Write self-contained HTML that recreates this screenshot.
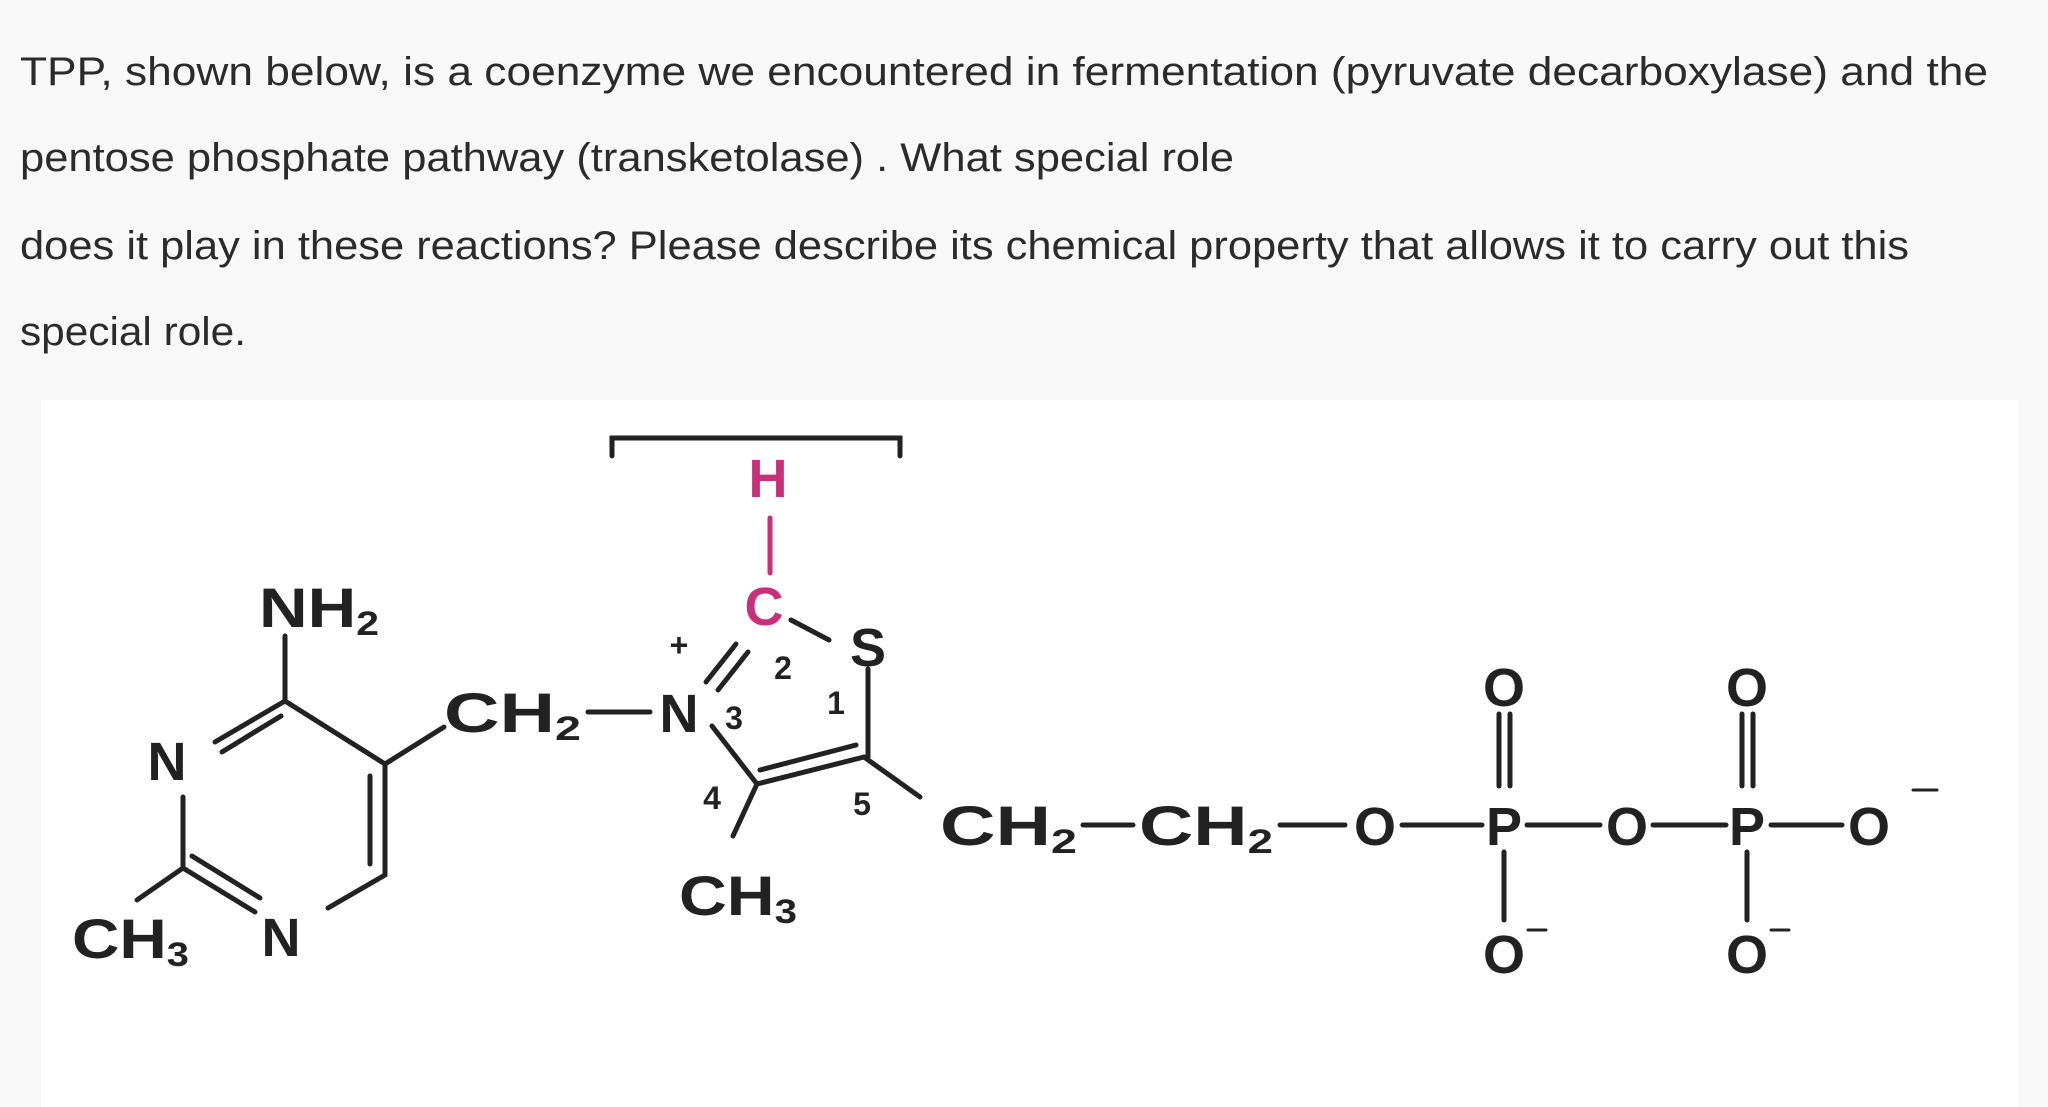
<!DOCTYPE html>
<html><head><meta charset="utf-8"><style>
html,body{margin:0;padding:0;background:#f8f8f8;}
svg{display:block;}
.h{font-family:"Liberation Sans",sans-serif;font-size:40px;fill:#2b2b2b;}
.a{font-family:"Liberation Sans Narrow","Liberation Sans",sans-serif;font-weight:bold;font-size:54px;fill:#222;text-anchor:middle;}
.b{font-family:"Liberation Sans Narrow","Liberation Sans",sans-serif;font-weight:bold;font-size:56px;fill:#222;}
.s{font-family:"Liberation Sans Narrow","Liberation Sans",sans-serif;font-weight:bold;font-size:34px;fill:#222;}
.n{font-family:"Liberation Sans Narrow","Liberation Sans",sans-serif;font-weight:bold;font-size:32px;fill:#222;text-anchor:middle;}
</style></head><body>
<svg width="2048" height="1107" viewBox="0 0 2048 1107" xmlns="http://www.w3.org/2000/svg">
<rect x="0" y="0" width="2048" height="1107" fill="#f8f8f8"/>
<text class="h" x="20" y="85" textLength="1968" lengthAdjust="spacingAndGlyphs">TPP, shown below, is a coenzyme we encountered in fermentation (pyruvate decarboxylase) and the</text>
<text class="h" x="20" y="171" textLength="1214" lengthAdjust="spacingAndGlyphs">pentose phosphate pathway (transketolase) . What special role</text>
<text class="h" x="20" y="259" textLength="1889" lengthAdjust="spacingAndGlyphs">does it play in these reactions? Please describe its chemical property that allows it to carry out this</text>
<text class="h" x="20" y="345" textLength="226" lengthAdjust="spacingAndGlyphs">special role.</text>
<rect x="41" y="400" width="1977" height="707" fill="#ffffff"/>

<g stroke="#222" stroke-width="5" fill="none" stroke-linecap="round">
<polyline points="612,456 612,438 900,438 900,456"/>
<line x1="285" y1="636" x2="285" y2="701"/>
<line x1="285" y1="701" x2="385" y2="764"/>
<line x1="385" y1="764" x2="444" y2="727"/>
<line x1="385" y1="764" x2="385" y2="875"/>
<line x1="370" y1="776" x2="370" y2="864"/>
<line x1="385" y1="875" x2="328" y2="908"/>
<line x1="183" y1="868" x2="255" y2="912"/>
<line x1="192" y1="856" x2="260" y2="898"/>
<line x1="183" y1="797" x2="183" y2="868"/>
<line x1="183" y1="868" x2="137" y2="900"/>
<line x1="285" y1="701" x2="215" y2="742"/>
<line x1="281" y1="716" x2="222" y2="752"/>
<line x1="588" y1="712" x2="650" y2="712"/>
<line x1="712" y1="726" x2="757" y2="784"/>
<line x1="757" y1="784" x2="864" y2="757"/>
<line x1="760" y1="770" x2="856" y2="745"/>
<line x1="868" y1="669" x2="868" y2="757"/>
<line x1="757" y1="784" x2="733" y2="836"/>
<line x1="864" y1="757" x2="920" y2="797"/>
<line x1="706" y1="682" x2="736" y2="644"/>
<line x1="718" y1="690" x2="748" y2="652"/>
<line x1="1083" y1="825" x2="1133" y2="825"/>
<line x1="1280" y1="825" x2="1345" y2="825"/>
<line x1="1402" y1="825" x2="1482" y2="825"/>
<line x1="1527" y1="825" x2="1600" y2="825"/>
<line x1="1653" y1="825" x2="1726" y2="825"/>
<line x1="1771" y1="825" x2="1842" y2="825"/>
<line x1="1499" y1="714" x2="1499" y2="786"/>
<line x1="1510" y1="714" x2="1510" y2="786"/>
<line x1="1504" y1="852" x2="1504" y2="920"/>
<line x1="1742" y1="714" x2="1742" y2="786"/>
<line x1="1753" y1="714" x2="1753" y2="786"/>
<line x1="1747" y1="852" x2="1747" y2="920"/>
<line x1="1913" y1="790" x2="1937" y2="790" stroke-width="3"/>
<line x1="1528" y1="930" x2="1546" y2="930" stroke-width="3"/>
<line x1="1771" y1="930" x2="1789" y2="930" stroke-width="3"/>
</g>
<line x1="770" y1="518" x2="770" y2="573" stroke="#c8307a" stroke-width="5" stroke-linecap="round"/>
<text class="a" x="768" y="497" style="fill:#c8307a">H</text>
<text class="a" x="764" y="625" style="fill:#c8307a">C</text>
<line x1="791" y1="620" x2="829" y2="640" stroke="#222" stroke-width="5" stroke-linecap="round"/>
<text class="a" x="868" y="666">S</text>
<text class="n" x="679" y="656">+</text>
<text class="n" x="783" y="679">2</text>
<text class="n" x="836" y="714">1</text>
<text class="a" x="679" y="732">N</text>
<text class="n" x="734" y="729">3</text>
<text class="n" x="712" y="809">4</text>
<text class="n" x="862" y="815">5</text>
<text class="b" x="444" y="732" textLength="137" lengthAdjust="spacingAndGlyphs">CH<tspan class="s" dy="8">2</tspan></text>
<text class="b" x="679" y="915" textLength="118" lengthAdjust="spacingAndGlyphs">CH<tspan class="s" dy="8">3</tspan></text>
<text class="b" x="259" y="627" textLength="120" lengthAdjust="spacingAndGlyphs">NH<tspan class="s" dy="8">2</tspan></text>
<text class="a" x="167" y="780">N</text>
<text class="a" x="281" y="956">N</text>
<text class="b" x="72" y="958" textLength="117" lengthAdjust="spacingAndGlyphs">CH<tspan class="s" dy="8">3</tspan></text>
<text class="b" x="940" y="845" textLength="137" lengthAdjust="spacingAndGlyphs">CH<tspan class="s" dy="8">2</tspan></text>
<text class="b" x="1139" y="845" textLength="134" lengthAdjust="spacingAndGlyphs">CH<tspan class="s" dy="8">2</tspan></text>
<text class="a" x="1375" y="845">O</text>
<text class="a" x="1504" y="845">P</text>
<text class="a" x="1627" y="845">O</text>
<text class="a" x="1747" y="845">P</text>
<text class="a" x="1869" y="845">O</text>
<text class="a" x="1504" y="706">O</text>
<text class="a" x="1747" y="706">O</text>
<text class="a" x="1504" y="973">O</text>
<text class="a" x="1747" y="973">O</text>
</svg>
</body></html>
